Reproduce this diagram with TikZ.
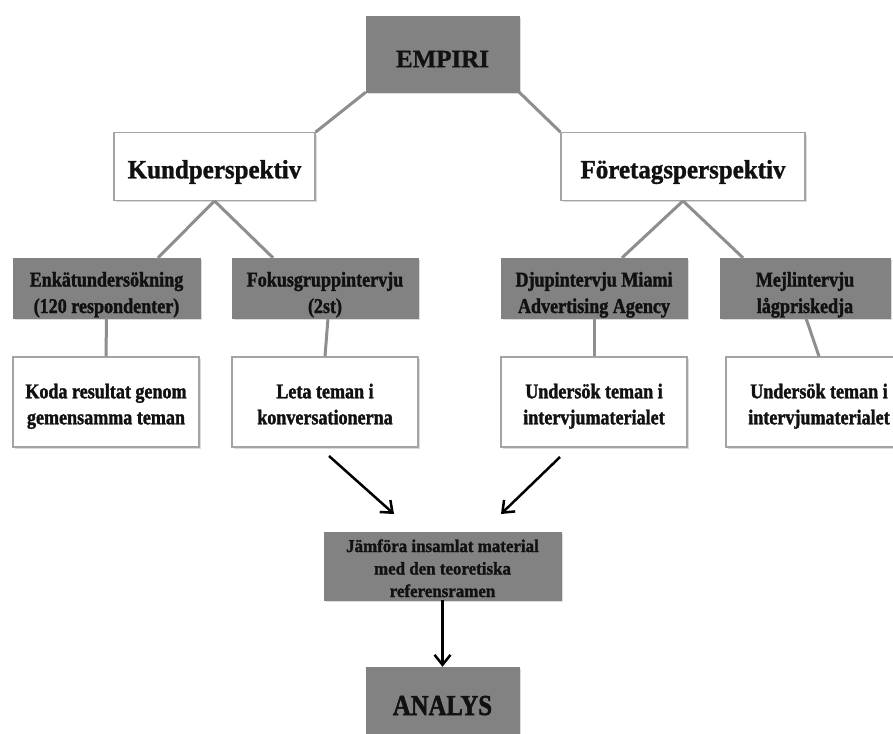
\documentclass[tikz,border=0pt]{standalone}
\usepackage{fontspec}
\setmainfont{Liberation Serif}
\newfontfamily\fsmall[FakeStretch=0.86,FakeBold=1.6]{Liberation Serif Bold}
\newfontfamily\fmid[FakeStretch=0.94,FakeBold=1.4]{Liberation Serif Bold}
\newfontfamily\fper[FakeStretch=0.95,FakeBold=1.2]{Liberation Serif Bold}
\newfontfamily\fana[FakeStretch=0.85,FakeBold=1.8]{Liberation Serif Bold}
\newfontfamily\femp[FakeBold=1]{Liberation Serif Bold}
\usetikzlibrary{arrows.meta,shadows,calc}
\definecolor{boxgrey}{HTML}{828282}
\definecolor{linegrey}{HTML}{8E8E8E}
\definecolor{bordergrey}{HTML}{A4A4A4}
\definecolor{ink}{HTML}{111111}
\newcommand\ls{\rule[-0.25em]{0pt}{1em}}
\tikzset{
  base/.style={rectangle, inner sep=0pt,
    drop shadow={opacity=0.28, shadow xshift=1.5pt, shadow yshift=-2pt}},
  greybox/.style={base, fill=boxgrey, draw=boxgrey},
  whitebox/.style={base, fill=white, draw=bordergrey, line width=1.3pt},
  txt/.style={inner sep=0pt, align=center, text=ink},
  conn/.style={draw=linegrey, line width=3pt},
  arr/.style={draw=black, line width=2.5pt, -{Straight Barb[length=10pt,width=16pt]}},
  empfont/.style={font=\femp\fontsize{25}{30}\selectfont},
  perfont/.style={font=\fper\fontsize{26.3}{30}\selectfont},
  rowtwofont/.style={font=\fsmall\fontsize{21}{26.5}\selectfont},
  rowthreefont/.style={font=\fsmall\fontsize{21}{26}\selectfont},
  midfont/.style={font=\fmid\fontsize{18}{22.5}\selectfont},
  anafont/.style={font=\fana\fontsize{29}{32}\selectfont},
}
\begin{document}
\begin{tikzpicture}[x=1pt,y=-1pt]
\useasboundingbox[fill=white] (0,0) rectangle (893,733);
% ---- boxes
\node[greybox, minimum width=153pt, minimum height=76pt] (emp) at (442.5,54) {};
\node[whitebox, minimum width=201pt, minimum height=67.6pt] (kund) at (214.5,166.5) {};
\node[whitebox, minimum width=244pt, minimum height=67.6pt] (fore) at (683,166.5) {};
\node[greybox, minimum width=187pt, minimum height=60pt] (enk) at (106.5,288) {};
\node[greybox, minimum width=186pt, minimum height=60pt] (fok) at (325,288) {};
\node[greybox, minimum width=186pt, minimum height=60pt] (djup) at (594,288) {};
\node[greybox, minimum width=170pt, minimum height=60pt] (mejl) at (805,288) {};
\node[whitebox, minimum width=186pt, minimum height=90pt] (koda) at (106,402) {};
\node[whitebox, minimum width=186pt, minimum height=90pt] (leta) at (325,402) {};
\node[whitebox, minimum width=186pt, minimum height=90pt] (und1) at (594,402) {};
\node[whitebox, minimum width=186pt, minimum height=90pt] (und2) at (819,402) {};
\node[greybox, minimum width=237pt, minimum height=68.3pt] (jam) at (442.5,566) {};
\node[greybox, minimum width=153pt, minimum height=68pt] (ana) at (442.5,701) {};
% ---- texts
\node[txt, empfont] (emp-t) at ([yshift=-7pt]emp.center) {\ls EMPIRI};
\node[txt, perfont] (kund-t) at ([yshift=-5.2pt]kund.center) {\ls Kundperspektiv};
\node[txt, perfont] (fore-t) at ([yshift=-5.2pt]fore.center) {\ls Företagsperspektiv};
\node[txt, rowtwofont] (enk-t) at ([yshift=-6.5pt]enk.center) {\ls Enkätundersökning\\\ls (120 respondenter)};
\node[txt, rowtwofont] (fok-t) at ([yshift=-6.5pt]fok.center) {\ls Fokusgruppintervju\\\ls (2st)};
\node[txt, rowtwofont] (djup-t) at ([yshift=-6.5pt]djup.center) {\ls Djupintervju Miami\\\ls Advertising Agency};
\node[txt, rowtwofont] (mejl-t) at ([yshift=-6.5pt]mejl.center) {\ls Mejlintervju\\\ls lågpriskedja};
\node[txt, rowthreefont] (koda-t) at ([yshift=-4pt]koda.center) {\ls Koda resultat genom\\\ls gemensamma teman};
\node[txt, rowthreefont] (leta-t) at ([yshift=-4pt]leta.center) {\ls Leta teman i\\\ls konversationerna};
\node[txt, rowthreefont] (und1-t) at ([yshift=-4pt]und1.center) {\ls Undersök teman i\\\ls intervjumaterialet};
\node[txt, rowthreefont] (und2-t) at ([yshift=-4pt]und2.center) {\ls Undersök teman i\\\ls intervjumaterialet};
\node[txt, midfont] (jam-t) at ([yshift=-4pt]jam.center) {\ls Jämföra insamlat material\\\ls med den teoretiska\\\ls referensramen};
\node[txt, anafont] (ana-t) at ([yshift=-6.75pt]ana.center) {\ls ANALYS};
% ---- grey connectors
\draw[conn] (emp.south west) -- (kund.north east);
\draw[conn] (emp.south east) -- (fore.north west);
\draw[conn] (kund.south) -- ([xshift=51.5pt]enk.north);
\draw[conn] (kund.south) -- ([xshift=-52pt]fok.north);
\draw[conn] (fore.south) -- ([xshift=28pt]djup.north);
\draw[conn] (fore.south) -- ([xshift=-62pt]mejl.north);
\draw[conn] (enk.south) -- (koda.north);
\draw[conn] ([xshift=3pt]fok.south) -- (leta.north);
\draw[conn] (djup.south) -- (und1.north);
\draw[conn] ([xshift=1pt]mejl.south) -- (und2.north);
% ---- arrows
\coordinate (a1s) at (329,456);
\coordinate (a1e) at (394,514);
\coordinate (a2s) at (560,457);
\coordinate (a2e) at (501,514);
\draw[arr] (a1s) -- (a1e);
\draw[arr] (a2s) -- (a2e);
\draw[arr] (jam.south) -- (ana.north);
\end{tikzpicture}
\end{document}
